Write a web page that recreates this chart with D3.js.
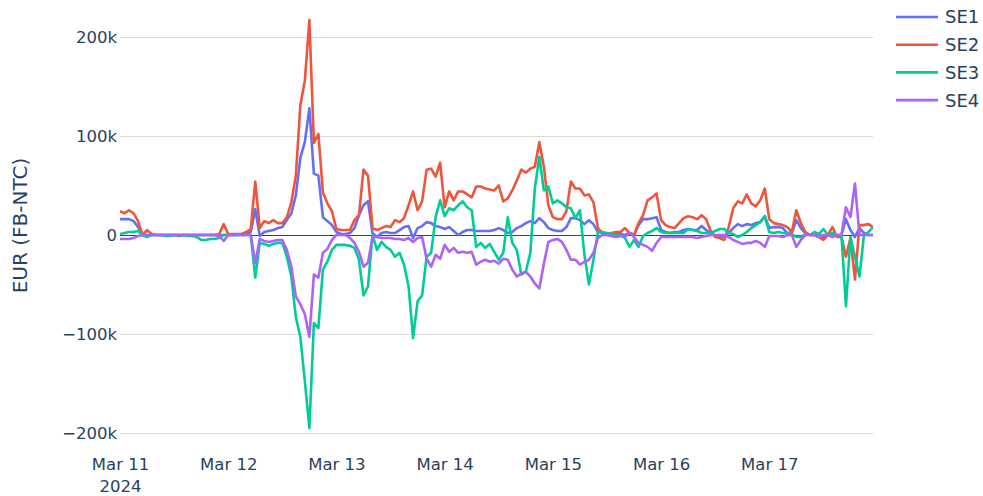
<!DOCTYPE html>
<html><head><meta charset="utf-8">
<script src="https://cdn.jsdelivr.net/npm/d3@7"></script>
<style>
html,body{margin:0;padding:0;background:#fff;}
svg{display:block;}
text{font-family:"DejaVu Sans",Verdana,sans-serif;fill:#2a3f5f;}
</style></head>
<body><svg id="chart" width="983" height="496"></svg>
<script>
// Hourly values (thousands of EUR), 2024-03-11 00:00 to 2024-03-17 23:00
const startDate = "2024-03-11T00:00:00Z";
const seriesNames = ["SE1", "SE2", "SE3", "SE4"];
const seriesColors = ["#636efa", "#EF553B", "#00cc96", "#ab63fa"];
const tickLabels = ["Mar 11", "Mar 12", "Mar 13", "Mar 14", "Mar 15", "Mar 16", "Mar 17"];
const yTickValues = [-200000, -100000, 0, 100000, 200000];

const SE1 = [
16,16,16,14,8,0,-1,0,0,0,
0,0,0,-1,0,0,0,0,0,0,
0,0,0,0,0,0,0,1,1,3,
26,-1,3,4,5,7,8,15,22,40,
78,94,128,62,60,18,14,10,3,1,
1,2,7,20,30,34,2,-2,2,3,
2,2,5,8,9,-3,7,9,13,12,
9,8,6,8,4,0,3,5,5,4,
4,4,4,5,7,5,2,3,7,9,
12,14,12,17,13,7,5,4,4,8,
17,17,15,11,15,11,3,2,1,1,
1,1,0,2,0,10,16,16,17,18,
5,3,2,3,3,5,6,5,5,9,
5,2,-1,-2,-1,2,7,11,9,11,
10,12,13,19,7,8,8,7,2,2,
15,7,2,0,0,0,-2,0,0,-1,
0,16,5,-2,7,2,0,0];
const SE2 = [
24,22,25,22,14,0,5,1,0,0,
0,0,0,0,0,0,0,0,0,0,
0,0,1,11,1,1,1,1,3,6,
54,7,14,12,15,12,12,18,33,60,
131,156,217,93,102,43,32,24,6,5,
5,5,15,20,66,60,7,5,7,9,
8,15,13,17,30,44,25,34,66,67,
59,73,28,44,35,44,44,41,38,49,
49,47,46,45,50,34,37,45,55,66,
63,67,69,94,69,30,18,16,16,24,
54,47,47,40,41,33,7,2,1,2,
3,3,7,2,0,12,20,35,38,42,
15,10,8,7,12,17,19,18,16,20,
16,4,-2,-3,-5,8,27,34,32,41,
32,29,35,47,16,12,11,10,8,3,
25,12,3,0,0,-2,-5,0,8,-2,
-2,-22,-3,-45,10,10,11,8];
const SE3 = [
1,2,3,3,4,0,-2,0,0,0,
-1,-1,0,0,0,-1,-1,-2,-5,-5,
-4,-4,-3,0,0,0,0,0,0,0,
-43,-8,-9,-11,-9,-8,-8,-22,-42,-83,
-103,-148,-195,-89,-94,-35,-27,-15,-10,-10,
-10,-11,-13,-25,-61,-52,0,-15,-7,-12,
-15,-22,-18,-30,-52,-104,-67,-61,-22,-18,
18,35,19,27,25,30,34,28,25,-12,
-8,-13,-9,-17,-25,-18,18,-8,-15,-40,
-37,-18,47,79,45,49,32,35,32,28,
27,17,25,-20,-50,-25,3,3,2,1,
0,0,-3,-12,-5,-12,-1,2,4,7,
3,2,2,2,2,2,6,5,4,2,
2,2,4,6,6,2,1,-2,0,3,
7,10,13,19,3,2,3,2,2,1,
-2,-2,1,0,3,1,6,0,2,0,
0,-72,-2,-22,-42,0,3,8];
const SE4 = [
-4,-4,-4,-3,-1,0,0,0,0,0,
0,0,0,0,0,0,0,0,0,0,
0,0,-1,-6,0,0,0,0,0,0,
-28,-4,-6,-7,-6,-5,-5,-15,-32,-62,
-70,-80,-103,-40,-43,-18,-14,-5,0,0,
0,-3,-8,-17,-32,-28,-2,-2,-3,-3,
-3,-4,-4,-5,-3,-7,-3,-2,-24,-32,
-20,-24,-10,-17,-13,-18,-17,-18,-17,-30,
-27,-25,-27,-26,-29,-24,-25,-35,-42,-39,
-37,-42,-49,-54,-29,-7,-5,-4,-7,-15,
-25,-25,-30,-27,-25,-18,-3,0,0,-1,
-2,-1,-2,2,-2,-8,-10,-12,-16,-8,
-2,-2,-2,-2,-2,-2,-2,-2,-3,-2,
-1,0,0,0,0,-2,-5,-7,-9,-8,
-8,-6,-8,-12,-1,-1,-1,-2,0,0,
-12,-5,0,0,0,-2,0,0,-2,0,
0,28,18,52,0,0,0,0];
const seriesValues = [SE1, SE2, SE3, SE4];

const svg = d3.select("#chart");
const plot = {left: 120, right: 873, top: 0, bottom: 451};
const t0 = new Date(startDate);
const dates = SE1.map((_, i) => new Date(t0.getTime() + i * 3600000));

const x = d3.scaleUtc().domain([dates[0], dates[dates.length - 1]]).range([plot.left, plot.right]);
const y = d3.scaleLinear().domain([-218182, 237374]).range([plot.bottom, plot.top]);

const FONT = '"DejaVu Sans",Verdana,sans-serif';

// gridlines
const grid = svg.append("g");
grid.selectAll("line").data(yTickValues.filter(v => v !== 0)).join("line")
  .attr("x1", plot.left).attr("x2", plot.right)
  .attr("y1", d => Math.round(y(d)) + 0.5).attr("y2", d => Math.round(y(d)) + 0.5)
  .attr("stroke", "#dadada").attr("stroke-width", 1);

// y axis
const yAxis = d3.axisLeft(y).tickValues(yTickValues).tickSize(0).tickPadding(2)
  .tickFormat(d => d === 0 ? "0" : d3.format("~s")(d));
const ya = svg.append("g").attr("transform", `translate(${plot.left - 1},0)`).call(yAxis);
ya.select(".domain").remove();
ya.selectAll("text").style("font-size", "16.5px").attr("fill", "#2a3f5f").style("font-family", FONT);

// x axis
const tickDates = tickLabels.map((_, i) => new Date(t0.getTime() + i * 86400000));
const xAxis = d3.axisBottom(x).tickValues(tickDates).tickSize(0).tickPadding(7)
  .tickFormat((d, i) => tickLabels[i]);
const xa = svg.append("g").attr("transform", `translate(0,${plot.bottom})`).call(xAxis);
xa.select(".domain").remove();
xa.selectAll("text").style("font-size", "16.5px").attr("fill", "#2a3f5f").style("font-family", FONT);
xa.selectAll(".tick").filter((d, i) => i === 0).append("text")
  .attr("y", 29).attr("dy", "0.71em").attr("text-anchor", "middle")
  .style("font-size", "16.5px").style("font-family", FONT).attr("fill", "#2a3f5f").text("2024");

// zero line
svg.append("line").attr("x1", plot.left).attr("x2", plot.right)
  .attr("y1", Math.round(y(0)) + 0.5).attr("y2", Math.round(y(0)) + 0.5)
  .attr("stroke", "#444").attr("stroke-width", 1);

// y title
svg.append("text").attr("transform", `translate(27,${(plot.top + plot.bottom) / 2}) rotate(-90)`)
  .attr("text-anchor", "middle").style("font-size", "20px").style("font-family", FONT).text("EUR (FB-NTC)");

// lines
const line = d3.line().x((d, i) => x(dates[i])).y(d => y(d * 1000));
const clip = svg.append("clipPath").attr("id", "clip").append("rect")
  .attr("x", plot.left).attr("y", plot.top).attr("width", plot.right - plot.left).attr("height", plot.bottom - plot.top);
const lines = svg.append("g").attr("clip-path", "url(#clip)");
seriesValues.forEach((vals, k) => {
  lines.append("path").datum(vals).attr("d", line)
    .attr("fill", "none").attr("stroke", seriesColors[k]).attr("stroke-width", 2.6)
    .attr("stroke-linejoin", "round");
});

// legend
const legend = svg.append("g").attr("transform", "translate(896,17)");
seriesNames.forEach((name, k) => {
  const g = legend.append("g").attr("transform", `translate(0,${k * 27.7})`);
  g.append("line").attr("x1", 0).attr("x2", 42).attr("y1", 0).attr("y2", 0)
    .attr("stroke", seriesColors[k]).attr("stroke-width", 2.6);
  g.append("text").attr("x", 49).attr("y", 0).attr("dy", "0.36em")
    .style("font-size", "18px").style("font-family", FONT).text(name);
});
</script></body></html>
